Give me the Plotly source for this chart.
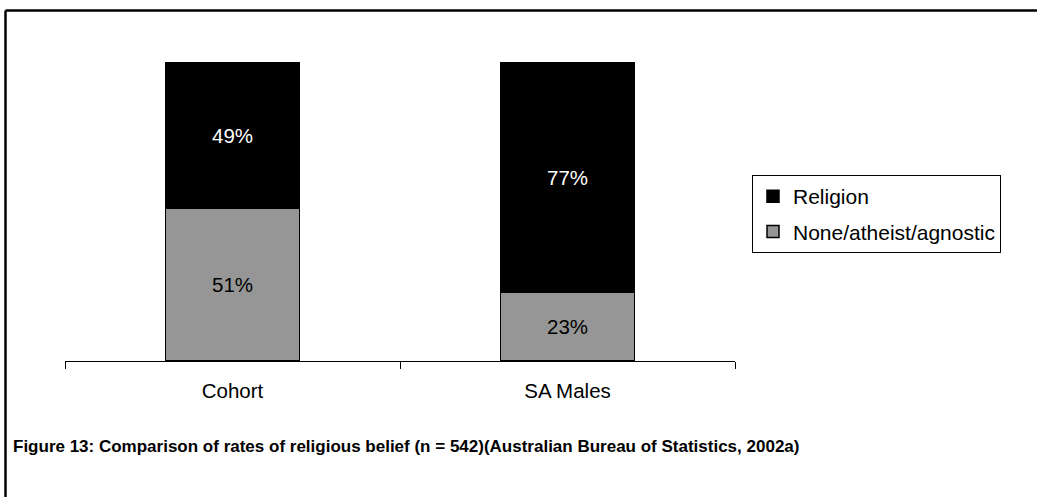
import plotly.graph_objects as go

categories = ["Cohort", "SA Males"]
none_share = [51, 23]
religion_share = [49, 77]

W, H = 1037, 497
PLOT_L, PLOT_R, PLOT_T, PLOT_B = 65, 735, 62, 361


def px_x(px):
    return (px - PLOT_L) / (PLOT_R - PLOT_L)


def px_y(py):
    return (PLOT_B - py) / (PLOT_B - PLOT_T)


FONT = "Liberation Sans, Arial, sans-serif"

fig = go.Figure()
fig.add_trace(go.Bar(
    x=categories, y=none_share, name="None/atheist/agnostic",
    legendgroup="none", legendrank=2,
    marker=dict(color="#969696", line=dict(color="black", width=1.5)),
    text=[f"{v}%" for v in none_share], textposition="inside",
    insidetextanchor="middle", textfont=dict(color="black", size=20.5),
))
fig.add_trace(go.Bar(
    x=categories, y=religion_share, name="Religion",
    legendgroup="religion", legendrank=1,
    marker=dict(color="black", line=dict(color="black", width=1.5)),
    text=[f"{v}%" for v in religion_share], textposition="inside",
    insidetextanchor="middle", textfont=dict(color="white", size=20.5),
))

fig.update_layout(
    width=W, height=H,
    barmode="stack", bargap=0.6,
    plot_bgcolor="white", paper_bgcolor="white",
    font=dict(family=FONT, size=20.5, color="black"),
    margin=dict(l=PLOT_L, r=W - PLOT_R, t=PLOT_T, b=H - PLOT_B, pad=0),
    showlegend=True,
    legend=dict(
        x=px_x(752), y=px_y(175), xanchor="left", yanchor="top",
        traceorder="grouped", tracegroupgap=5,
        bordercolor="black", borderwidth=1,
        bgcolor="white", font=dict(size=21), itemwidth=30,
    ),
    xaxis=dict(
        showline=True, linecolor="black", linewidth=1,
        ticks="outside", tickson="boundaries", ticklen=7, tickcolor="black",
        showgrid=False, tickfont=dict(size=20.5), ticklabelstandoff=11,
    ),
    yaxis=dict(range=[0, 100], visible=False, showgrid=False),
)

# Page frame (top and left edges)
fig.add_shape(type="line", xref="paper", yref="paper",
              x0=px_x(5.5), x1=px_x(1100), y0=px_y(10.5), y1=px_y(10.5),
              line=dict(color="black", width=2.5))
fig.add_shape(type="line", xref="paper", yref="paper",
              x0=px_x(5.5), x1=px_x(5.5), y0=px_y(10.5), y1=px_y(560),
              line=dict(color="black", width=2.5))

fig.add_annotation(
    text="<b>Figure 13: Comparison of rates of religious belief (n = 542)(Australian Bureau of Statistics, 2002a)</b>",
    xref="paper", yref="paper", x=px_x(11), y=px_y(446),
    xanchor="left", yanchor="middle", showarrow=False,
    font=dict(family="Liberation Sans Narrow, Arial Narrow, Liberation Sans, sans-serif", size=17),
)

fig.write_html("out.html")
